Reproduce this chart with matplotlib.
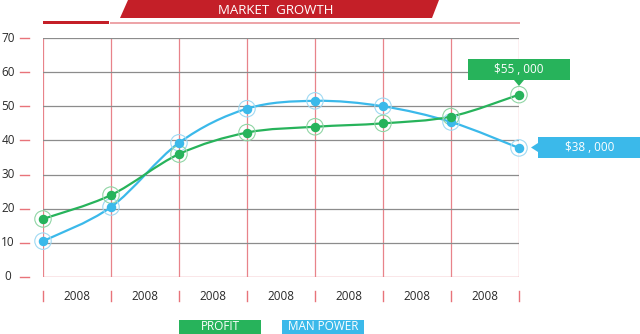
import matplotlib.pyplot as plt
import numpy as np
from matplotlib.path import Path
from matplotlib.patches import PathPatch, Polygon, Rectangle
from matplotlib.transforms import blended_transform_factory

plt.rcParams['font.family'] = ['Open Sans', 'DejaVu Sans']

# data
years = ['2008'] * 7
profit = [17, 24, 36, 42.3, 44, 45, 47, 53.4]
manpower = [10.5, 20.5, 39.3, 49.3, 51.6, 50, 45.4, 37.8]
yticks = [0, 10, 20, 30, 40, 50, 60, 70]
series_names = ['PROFIT', 'MAN POWER']
end_labels = ['$55 , 000', '$38 , 000']

GREEN = '#27b35b'
BLUE = '#3bb9ea'
RED = '#c41f28'
PINK = '#e8838a'

W, H = 640, 334
fig = plt.figure(figsize=(6.4, 3.34), dpi=100)
ax = fig.add_axes([43 / W, 1 - 277 / H, (519 - 43) / W, (277 - 38) / H])
ax.set_xlim(0, 7)
ax.set_ylim(0, 70)
ax.axis('off')

xs = np.arange(len(profit))

# grid
for x in xs:
    ax.axvline(x, color=PINK, lw=0.9, zorder=1)
for y in yticks[1:]:
    ax.axhline(y, color='#8c8c8c', lw=0.9, zorder=1)
ax.axhline(0, color=PINK, lw=1.0, zorder=1)

# y tick dashes and labels
bt = blended_transform_factory(fig.transFigure, ax.transData)
for y in yticks:
    ax.plot([20 / W, 29 / W], [y, y], color='#e8737a', lw=1.0, transform=bt, clip_on=False)
    ax.text(8 / W, y, str(y), transform=bt, ha='center', va='center', fontsize=8.5, color='#2a2a2a')

# x tick marks and labels
bx = blended_transform_factory(ax.transData, fig.transFigure)
for x in xs:
    ax.plot([x, x], [1 - 291 / H, 1 - 301 / H], color='#e8737a', lw=1.0, transform=bx, clip_on=False)
for i, lab in enumerate(years):
    ax.text(i + 0.5, 1 - 296 / H, lab, transform=bx, ha='center', va='center', fontsize=8.5, color='#2a2a2a')


def smooth_path(xv, yv):
    pts = np.column_stack([xv, yv]).astype(float)
    verts = [pts[0]]
    codes = [Path.MOVETO]
    n = len(pts)
    for i in range(n - 1):
        p0 = pts[i - 1] if i > 0 else pts[i]
        p1 = pts[i]
        p2 = pts[i + 1]
        p3 = pts[i + 2] if i + 2 < n else pts[i + 1]
        c1 = p1 + (p2 - p0) / 6
        c2 = p2 - (p3 - p1) / 6
        verts += [c1, c2, p2]
        codes += [Path.CURVE4] * 3
    return Path(verts, codes)


for vals, col, ring in [(manpower, BLUE, '#9ed9f3'), (profit, GREEN, '#8fd5a4')]:
    ax.add_patch(PathPatch(smooth_path(xs, vals), fill=False, edgecolor=col, lw=1.6, zorder=3))
    ax.scatter(xs, vals, s=140, facecolor='none', edgecolor=ring, lw=0.8, zorder=4, clip_on=False)
    ax.scatter(xs, vals, s=34, color=col, zorder=5, clip_on=False)

# title banner
fig.patches.append(Polygon([(120 / W, 1 - 18 / H), (128 / W, 1), (439 / W, 1), (432 / W, 1 - 18 / H)],
                           closed=True, transform=fig.transFigure, facecolor=RED, edgecolor='none'))
fig.text(276 / W, 1 - 10 / H, 'MARKET  GROWTH', ha='center', va='center', color='white', fontsize=9.5)
fig.patches.append(Rectangle((110 / W, 1 - 23.5 / H), 410 / W, 1.5 / H, transform=fig.transFigure,
                             facecolor='#eda5a9', edgecolor='none'))
fig.patches.append(Rectangle((43 / W, 1 - 24 / H), 66 / W, 3.5 / H, transform=fig.transFigure,
                             facecolor=RED, edgecolor='none'))

# end value callouts
fig.patches.append(Polygon([(468 / W, 1 - 59 / H), (570 / W, 1 - 59 / H), (570 / W, 1 - 80 / H),
                            (524 / W, 1 - 80 / H), (519 / W, 1 - 86 / H), (514 / W, 1 - 80 / H),
                            (468 / W, 1 - 80 / H)], closed=True, transform=fig.transFigure,
                           facecolor=GREEN, edgecolor='none'))
fig.text(519 / W, 1 - 69.5 / H, end_labels[0], ha='center', va='center', color='white', fontsize=8.5)
fig.patches.append(Polygon([(538 / W, 1 - 137 / H), (640 / W, 1 - 137 / H), (640 / W, 1 - 158 / H),
                            (538 / W, 1 - 158 / H), (538 / W, 1 - 152 / H), (531 / W, 1 - 147.5 / H),
                            (538 / W, 1 - 143 / H)], closed=True, transform=fig.transFigure,
                           facecolor=BLUE, edgecolor='none'))
fig.text(590 / W, 1 - 147.5 / H, end_labels[1], ha='center', va='center', color='white', fontsize=8.5)

# legend boxes
for (x0, x1), name, col in [((179, 261), series_names[0], GREEN), ((282, 364), series_names[1], BLUE)]:
    fig.patches.append(Rectangle((x0 / W, 0), (x1 - x0) / W, 14 / H, transform=fig.transFigure,
                                 facecolor=col, edgecolor='none'))
    fig.text((x0 + x1) / 2 / W, 1 - 327 / H, name, ha='center', va='center', color='white', fontsize=8.5)

fig.savefig('out.png', dpi=100)
